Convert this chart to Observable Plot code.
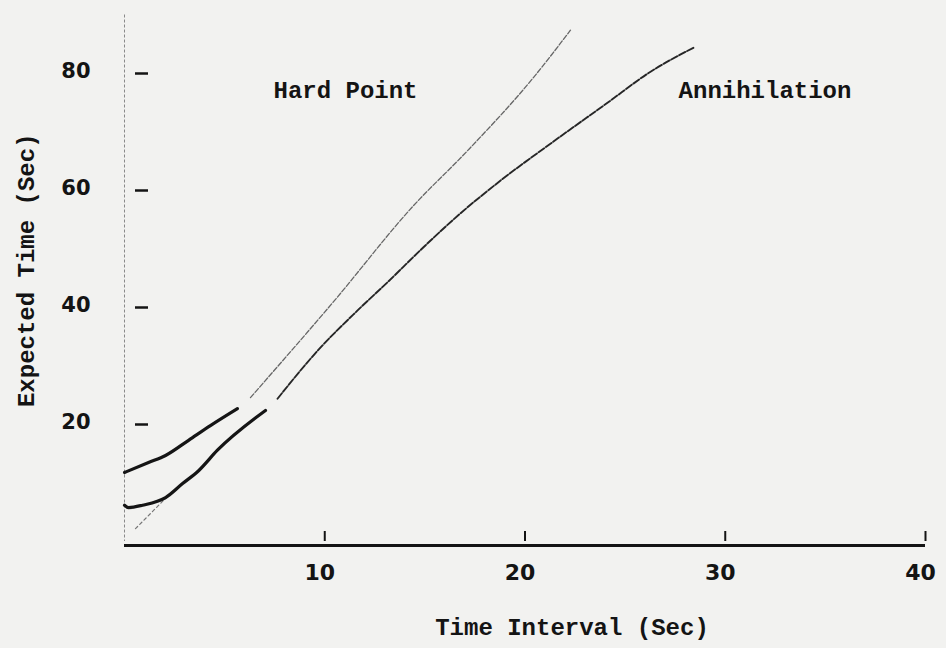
<!DOCTYPE html>
<html>
<head>
<meta charset="utf-8">
<script src="https://cdn.jsdelivr.net/npm/d3@7"></script>
<script src="https://cdn.jsdelivr.net/npm/@observablehq/plot@0.6"></script>
<style>
  html, body { margin: 0; padding: 0; background: #f2f2f0; }
  #chart { width: 946px; height: 648px; }
</style>
</head>
<body>
<div id="chart"></div>
<script>
// ---- data ----
const xTicks = [10, 20, 30, 40];
const yTicks = [20, 40, 60, 80];

const hardPointX = [0, 1.20, 2.05, 3.20, 4.29, 5.64, 6.29, 10.44, 14.43, 17.13, 20.42, 22.27];
const hardPointY = [11.8, 13.5, 14.7, 17.3, 19.8, 22.7, 24.6, 41.0, 57.4, 66.8, 79.3, 87.4];

const annihilationX = [0, 0.20, 0.90, 2.05, 2.90, 3.70, 4.64, 7.04, 7.64, 9.64, 11.64, 13.13, 14.93, 16.78, 18.78, 21.27, 24.12, 26.27, 28.41];
const annihilationY = [6.2, 5.8, 6.2, 7.5, 9.9, 12.1, 15.6, 22.4, 24.4, 32.6, 39.5, 44.3, 50.3, 56.1, 61.7, 68.0, 75.0, 80.3, 84.4];

const guideX = [0.55, 2.20];
const guideY = [2.2, 7.9];

const labelNames = ["Hard Point", "Annihilation"];
const labelX = [7.44, 27.67];
const labelY = [77.1, 77.1];

const xTitle = "Time Interval (Sec)";
const yTitle = "Expected Time (Sec)";

// ---- tables ----
const hardPoint = hardPointX.map((x, i) => ({x, y: hardPointY[i]}));
const annihilation = annihilationX.map((x, i) => ({x, y: annihilationY[i]}));
const guide = guideX.map((x, i) => ({x, y: guideY[i]}));
const labels = labelNames.map((label, i) => ({label, x: labelX[i], y: labelY[i]}));

const hardThickEnd = 5.7, hardThinStart = 6.2;
const annThickEnd = 7.1, annThinStart = 7.6;

const mono = "Liberation Mono, DejaVu Sans Mono, monospace";
const sans = "DejaVu Sans, Liberation Sans, sans-serif";

const chart = Plot.plot({
  width: 946,
  height: 648,
  marginTop: 14.5,
  marginBottom: 107,
  marginLeft: 124,
  marginRight: 21,
  style: {background: "transparent", color: "#141414", overflow: "visible"},
  x: {domain: [0, 40], label: null},
  y: {domain: [0, 90], label: null},
  marks: [
    // y axis line (light, dotted) and x axis line (heavy)
    Plot.ruleX([0], {stroke: "#8a8a8a", strokeWidth: 1, strokeDasharray: "3,2"}),
    Plot.ruleY([0], {stroke: "#141414", strokeWidth: 3, dy: 4}),
    // y tick marks, set inside the axis
    Plot.axisY({ticks: yTicks, tickSize: 13, dx: 24, strokeWidth: 2.5, tickFormat: () => "", label: null}),
    Plot.axisY({ticks: yTicks, tickSize: 0, tickPadding: 34, dy: -2, fontSize: 21, fontWeight: "bold", fontFamily: sans, label: null}),
    // x tick marks, pointing up from the axis
    Plot.axisX({ticks: xTicks, tickSize: 10, dy: -10, strokeWidth: 2, tickFormat: () => "", label: null}),
    Plot.axisX({ticks: xTicks, tickSize: 0, tickPadding: 23, dx: -5, fontSize: 22, fontWeight: "bold", fontFamily: sans, label: null}),
    // guide line
    Plot.line(guide, {x: "x", y: "y", stroke: "#777", strokeWidth: 1.2, strokeDasharray: "3,3"}),
    // Hard Point
    Plot.line(hardPoint.filter(d => d.x <= hardThickEnd), {x: "x", y: "y", stroke: "#151515", strokeWidth: 3.2, strokeLinecap: "round", curve: "monotone-x"}),
    Plot.line(hardPoint.filter(d => d.x >= hardThinStart), {x: "x", y: "y", stroke: "#666", strokeWidth: 1.3, strokeDasharray: "5,2", curve: "monotone-x"}),
    // Annihilation
    Plot.line(annihilation.filter(d => d.x <= annThickEnd), {x: "x", y: "y", stroke: "#151515", strokeWidth: 3.2, strokeLinecap: "round", curve: "monotone-x"}),
    Plot.line(annihilation.filter(d => d.x >= annThinStart), {x: "x", y: "y", stroke: "#262626", strokeWidth: 1.9, strokeDasharray: "7,2", curve: "monotone-x"}),
    // curve labels
    Plot.text(labels, {x: "x", y: "y", text: "label", textAnchor: "start", fontFamily: mono, fontWeight: "bold", fontSize: 24, fill: "#141414"}),
    // axis titles
    Plot.text([xTitle], {frameAnchor: "bottom", textAnchor: "middle", dx: 47, dy: 93, fontFamily: mono, fontWeight: "bold", fontSize: 24, fill: "#141414"}),
    Plot.text([yTitle], {frameAnchor: "left", textAnchor: "middle", rotate: -90, dx: -98, dy: -8, fontFamily: mono, fontWeight: "bold", fontSize: 24, fill: "#141414"})
  ]
});
document.getElementById("chart").appendChild(chart);
</script>
</body>
</html>
